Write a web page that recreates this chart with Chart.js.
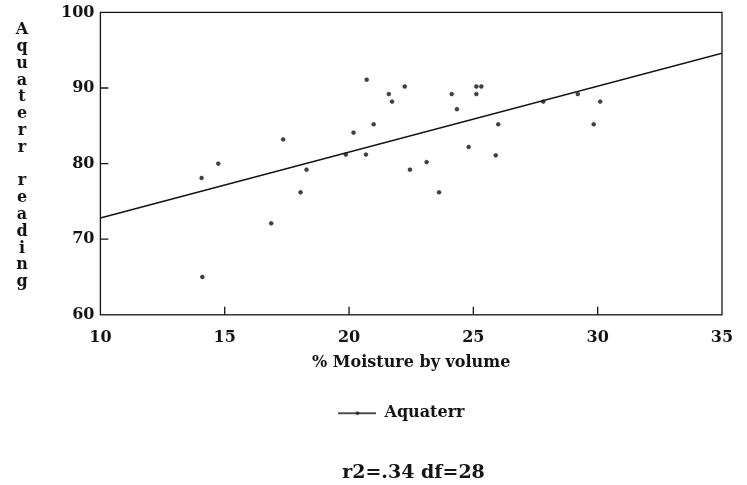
<!DOCTYPE html>
<html>
<head>
<meta charset="utf-8">
<script src="https://cdn.jsdelivr.net/npm/chart.js@4.4.1/dist/chart.umd.min.js"></script>
<style>
  html, body { margin: 0; padding: 0; background: #fff; }
  #wrap { width: 747px; height: 485px; }
</style>
</head>
<body>
<div id="wrap"><canvas id="chart" width="747" height="485"></canvas></div>
<script>
// values
const moisture = [14.07, 14.74, 14.1, 16.87, 17.35, 18.05, 18.29, 19.87, 20.18, 20.68,
  20.71, 20.99, 21.6, 21.73, 22.24, 22.45, 23.12, 23.62, 24.13, 24.34,
  24.81, 25.12, 25.32, 25.12, 25.9, 26.0, 27.81, 29.2, 29.84, 30.1];
const reading = [78.1, 80.0, 65.0, 72.1, 83.2, 76.2, 79.2, 81.2, 84.1, 81.2,
  91.1, 85.2, 89.2, 88.2, 90.2, 79.2, 80.2, 76.2, 89.2, 87.2,
  82.2, 90.2, 90.2, 89.2, 81.1, 85.2, 88.2, 89.2, 85.2, 88.2];
const fitX = [10, 35];
const fitY = [72.8, 94.6];
const xTicks = [10, 15, 20, 25, 30, 35];
const yTicks = [60, 70, 80, 90, 100];
const yTitle = "Aquaterr reading";
const xTitle = "% Moisture by volume";
const seriesName = "Aquaterr";
const statsText = "r2=.34 df=28";

const ink = "#141414";
const serif = "'DejaVu Serif', 'Liberation Serif', serif";

// legend sample: line with a small dot in the middle
function legendSample() {
  const c = document.createElement("canvas");
  c.width = 38; c.height = 6;
  const g = c.getContext("2d");
  g.strokeStyle = ink; g.lineWidth = 1.3;
  g.beginPath(); g.moveTo(0, 3); g.lineTo(38, 3); g.stroke();
  g.fillStyle = ink;
  g.beginPath(); g.arc(19, 3, 1.7, 0, Math.PI * 2); g.fill();
  return c;
}

// the legend and the stats line sit right of the canvas centre in the original
function nudge(box, dx) {
  if (box && !box._nudged) {
    box.left += dx;
    box.right += dx;
    box._nudged = true;
  }
}
function statsBox(chart) {
  return chart.boxes.find(b => b.options && b.options.text === statsText);
}

// box around plot, inward tick marks, stacked y title
const framePlugin = {
  id: "frame",
  afterLayout(chart) {
    if (chart.legend) chart.legend._nudged = false;
    const s = statsBox(chart);
    if (s) s._nudged = false;
  },
  beforeDraw(chart) {
    nudge(chart.legend, 13);
    nudge(statsBox(chart), 25);
  },
  afterDraw(chart) {
    const { ctx, chartArea: a, scales } = chart;
    ctx.save();
    ctx.strokeStyle = ink;
    ctx.lineWidth = 1.3;
    ctx.strokeRect(a.left, a.top, a.right - a.left, a.bottom - a.top);
    ctx.beginPath();
    yTicks.slice(1, -1).forEach(v => {
      const y = scales.y.getPixelForValue(v);
      ctx.moveTo(a.left, y); ctx.lineTo(a.left + 8, y);
    });
    xTicks.slice(1, -1).forEach(v => {
      const x = scales.x.getPixelForValue(v);
      ctx.moveTo(x, a.bottom); ctx.lineTo(x, a.bottom - 8);
    });
    ctx.stroke();

    ctx.fillStyle = ink;
    ctx.font = "bold 16px " + serif;
    ctx.textAlign = "center";
    ctx.textBaseline = "middle";
    const letters = yTitle.split("");
    const top = 30, step = 16.8;
    letters.forEach((ch, i) => {
      if (ch !== " ") ctx.fillText(ch, 22, top + i * step);
    });
    ctx.restore();
  }
};

const points = moisture.map((x, i) => ({ x: x, y: reading[i] }));
const fitLine = fitX.map((x, i) => ({ x: x, y: fitY[i] }));

new Chart(document.getElementById("chart"), {
  type: "scatter",
  data: {
    datasets: [
      {
        label: seriesName,
        data: fitLine,
        showLine: true,
        borderColor: ink,
        borderWidth: 1.6,
        pointRadius: 0,
        pointStyle: legendSample(),
      },
      {
        label: "points",
        data: points,
        pointRadius: 1.9,
        pointBackgroundColor: "#444",
        pointBorderColor: "#222",
        pointBorderWidth: 0.6,
      },
    ],
  },
  options: {
    responsive: false,
    animation: false,
    layout: { padding: { left: 55, right: 25, top: 3, bottom: 1 } },
    plugins: {
      legend: {
        position: "bottom",
        labels: {
          usePointStyle: true,
          pointStyleWidth: 38,
          boxHeight: 6,
          color: ink,
          font: { family: serif, size: 16, weight: "bold" },
          padding: 10,
          filter: item => item.datasetIndex === 0,
        },
      },
      subtitle: {
        display: true,
        position: "bottom",
        text: statsText,
        color: ink,
        font: { family: serif, size: 19, weight: "bold" },
        padding: { top: 30, bottom: 0 },
      },
      tooltip: { enabled: false },
    },
    scales: {
      x: {
        type: "linear",
        min: 10,
        max: 35,
        afterBuildTicks: axis => { axis.ticks = xTicks.map(v => ({ value: v })); },
        grid: { display: false, drawTicks: false },
        border: { display: false },
        ticks: {
          color: ink,
          font: { family: serif, size: 16, weight: "bold" },
          padding: 13,
          maxRotation: 0,
        },
        title: {
          display: true,
          text: xTitle,
          color: ink,
          font: { family: serif, size: 16, weight: "bold" },
          padding: { top: -7, bottom: 23 },
        },
      },
      y: {
        type: "linear",
        min: 60,
        max: 100,
        afterBuildTicks: axis => { axis.ticks = yTicks.map(v => ({ value: v })); },
        grid: { display: false, drawTicks: false },
        border: { display: false },
        ticks: {
          color: ink,
          font: { family: serif, size: 16, weight: "bold", lineHeight: 0.8 },
          padding: 6,
        },
      },
    },
  },
  plugins: [framePlugin],
});
</script>
</body>
</html>
